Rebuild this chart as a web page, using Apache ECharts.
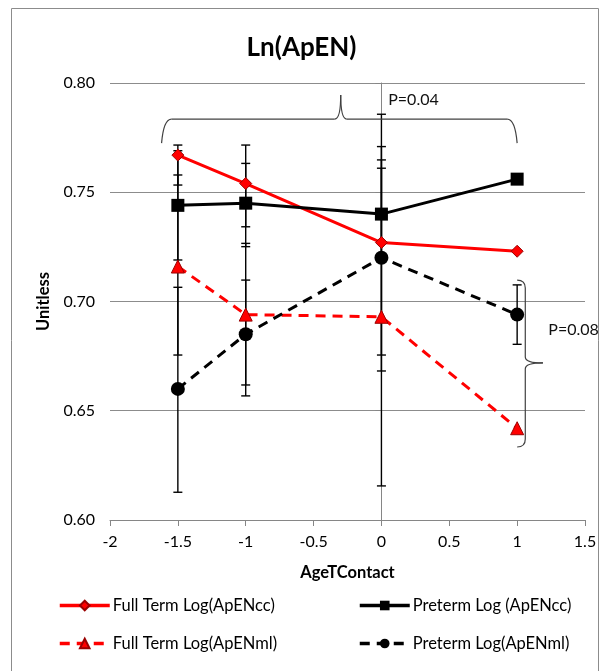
<!DOCTYPE html>
<html><head><meta charset="utf-8">
<script src="https://cdn.jsdelivr.net/npm/echarts@6/dist/echarts.min.js"></script>
<style>html,body{margin:0;padding:0;background:#fff}#c{width:603px;height:671px}</style>
</head><body><div id="c"></div>
<script>
// ---- data ----
const xVals = [-1.5, -1, 0, 1];
const seriesNames = ['Full Term Log(ApENcc)', 'Preterm Log (ApENcc)', 'Full Term Log(ApENml)', 'Preterm Log(ApENml)'];
const ftcc = [0.767, 0.754, 0.727, 0.723];
const ptcc = [0.744, 0.745, 0.740, 0.756];
const ftml = [0.716, 0.694, 0.693, 0.642];
const ptml = [0.660, 0.685, 0.720, 0.694];
const ftccLow  = [0.7533, 0.7342, 0.6682, null];
const ftccHigh = [0.7716, 0.7716, 0.7857, null];
const ptccLow  = [0.719, 0.7251, 0.718, null];
const ptccHigh = [0.769, 0.7632, 0.761, null];
const ftmlLow  = [0.6755, 0.6568, 0.6156, null];
const ftmlHigh = [0.7579, 0.7266, 0.7709, null];
const ptmlLow  = [0.6127, 0.6618, 0.6755, 0.6804];
const ptmlHigh = [0.7065, 0.7098, 0.7648, 0.7076];
const pLabels = ['P=0.04', 'P=0.08'];
const xTicks = [-2, -1.5, -1, -0.5, 0, 0.5, 1, 1.5];
const yTicks = [0.60, 0.65, 0.70, 0.75, 0.80];

const FONT = 'Lato, "Open Sans", sans-serif';
const chart = echarts.init(document.getElementById('c'));

function pts(vals) { return xVals.map((x, i) => [x, vals[i]]); }
function errData(lo, hi) {
  const out = [];
  xVals.forEach((x, i) => { if (lo[i] != null && hi[i] != null) out.push([x, lo[i], hi[i]]); });
  return out;
}
const errAll = [].concat(errData(ftccLow, ftccHigh), errData(ptccLow, ptccHigh), errData(ftmlLow, ftmlHigh), errData(ptmlLow, ptmlHigh));

function legendAt(name, left, top) {
  return { data: [name], left: left, top: top, itemWidth: 50, itemHeight: 12, padding: 0,
    lineStyle: { width: 3.5 },
    textStyle: { fontFamily: FONT, fontSize: 16.5, color: '#000', padding: [0, 0, 0, -2] } };
}

const RED = '#ff0000';
chart.setOption({
  animation: false,
  title: { text: 'Ln(ApEN)', left: 'center', top: 30,
    textStyle: { fontFamily: FONT, fontSize: 26, fontWeight: 'bold', color: '#000' } },
  grid: { left: 110, right: 18, top: 83, bottom: 151, outerBoundsMode: 'none' },
  legend: [
    legendAt(seriesNames[0], 58, 597),
    legendAt(seriesNames[1], 358, 597),
    legendAt(seriesNames[2], 58, 635),
    legendAt(seriesNames[3], 358, 635)
  ],
  xAxis: { type: 'value', min: xTicks[0], max: xTicks[xTicks.length - 1], interval: 0.5,
    name: 'AgeTContact', nameLocation: 'middle', nameGap: 44,
    nameTextStyle: { fontFamily: FONT, fontSize: 16.5, fontWeight: 'bold', color: '#000' },
    axisLine: { lineStyle: { color: '#868686', width: 1 } },
    axisTick: { show: true, length: 6, lineStyle: { color: '#868686' } },
    axisLabel: { fontFamily: FONT, fontSize: 16, color: '#000', margin: 14 },
    splitLine: { show: false } },
  yAxis: { type: 'value', min: yTicks[0], max: yTicks[yTicks.length - 1], interval: 0.05,
    name: 'Unitless', nameLocation: 'middle', nameGap: 58, nameRotate: 90,
    nameTextStyle: { fontFamily: FONT, fontSize: 16.5, fontWeight: 'bold', color: '#000' },
    axisLine: { show: true, lineStyle: { color: '#868686', width: 1 } },
    axisTick: { show: true, length: 6, lineStyle: { color: '#868686' } },
    axisLabel: { fontFamily: FONT, fontSize: 16, color: '#000', margin: 15, formatter: v => v.toFixed(2) },
    splitLine: { show: true, lineStyle: { color: '#8c8c8c', width: 1 } } },
  series: [
    { type: 'custom', name: 'err', z: 3, silent: true, data: errAll,
      encode: { x: 0, y: [1, 2] },
      renderItem: function (params, api) {
        const x = api.value(0);
        const p1 = api.coord([x, api.value(1)]);
        const p2 = api.coord([x, api.value(2)]);
        const w = 4.5, st = { stroke: '#000', lineWidth: 1.4 };
        return { type: 'group', children: [
          { type: 'line', shape: { x1: p1[0], y1: p1[1], x2: p2[0], y2: p2[1] }, style: st },
          { type: 'line', shape: { x1: p1[0] - w, y1: p1[1], x2: p1[0] + w, y2: p1[1] }, style: st },
          { type: 'line', shape: { x1: p2[0] - w, y1: p2[1], x2: p2[0] + w, y2: p2[1] }, style: st }
        ] };
      } },
    { type: 'line', name: seriesNames[0], data: pts(ftcc), z: 4, symbol: 'diamond', symbolSize: 12,
      lineStyle: { color: RED, width: 3 }, itemStyle: { color: RED, borderColor: '#9a0000', borderWidth: 1 } },
    { type: 'line', name: seriesNames[1], data: pts(ptcc), z: 4, symbol: 'rect', symbolSize: 13,
      lineStyle: { color: '#000', width: 3 }, itemStyle: { color: '#000' } },
    { type: 'line', name: seriesNames[2], data: pts(ftml), z: 4, symbol: 'triangle', symbolSize: 13,
      lineStyle: { color: RED, width: 3, type: [10, 7] }, itemStyle: { color: RED, borderColor: '#9a0000', borderWidth: 1 } },
    { type: 'line', name: seriesNames[3], data: pts(ptml), z: 4, symbol: 'circle', symbolSize: 14,
      lineStyle: { color: '#000', width: 3, type: [10, 7] }, itemStyle: { color: '#000' } }
  ]
});

// ---- annotations (braces + P values), positioned via axes ----
function P(x, y) { return chart.convertToPixel({ gridIndex: 0 }, [x, y]); }
const BST = { fill: 'none', stroke: '#404040', lineWidth: 1.2 };
function seg(x1, y1, x2, y2) { return { type: 'line', shape: { x1, y1, x2, y2 }, style: BST, z: 10, silent: true }; }
function quad(x1, y1, cx, cy, x2, y2) { return { type: 'bezierCurve', shape: { x1, y1, x2, y2, cpx1: cx, cpy1: cy }, style: BST, z: 10, silent: true }; }

const a = P(-1.62, 0.7725), b = P(1.0, 0.7725);
const yMid = P(0, 0.7835)[1], tip = P(-0.3, 0.7945);
const xB = P(1.06, 0)[0], xH = P(1.0, 0)[0], xTip = P(1.19, 0)[0];
const yTop = P(0, 0.7098)[1], yBot = P(0, 0.6334)[1], yC = P(0, 0.6719)[1];
const t1 = P(0.05, 0.7922), t2 = P(1.23, 0.687);

const braces = [
  quad(a[0], a[1], a[0] + 2, yMid, a[0] + 10, yMid),
  seg(a[0] + 10, yMid, tip[0] - 6, yMid),
  quad(tip[0] - 6, yMid, tip[0], yMid, tip[0], tip[1]),
  quad(tip[0], tip[1], tip[0], yMid, tip[0] + 6, yMid),
  seg(tip[0] + 6, yMid, b[0] - 10, yMid),
  quad(b[0] - 10, yMid, b[0] - 2, yMid, b[0], b[1]),
  quad(xH, yTop, xB, yTop, xB, yTop + 8),
  seg(xB, yTop + 8, xB, yC - 6),
  quad(xB, yC - 6, xB, yC, xTip, yC),
  quad(xTip, yC, xB, yC, xB, yC + 6),
  seg(xB, yC + 6, xB, yBot - 8),
  quad(xB, yBot - 8, xB, yBot, xH, yBot)
];

chart.setOption({
  graphic: [
    { type: 'rect', shape: { x: 11.5, y: 8.5, width: 587, height: 680 }, style: { fill: 'none', stroke: '#8c8c8c', lineWidth: 1 }, silent: true },
    { type: 'text', x: t1[0], y: t1[1], style: { text: pLabels[0], fontFamily: FONT, fontSize: 16, fill: '#111', textVerticalAlign: 'middle' }, z: 10 },
    { type: 'text', x: t2[0], y: t2[1], style: { text: pLabels[1], fontFamily: FONT, fontSize: 16, fill: '#111', textVerticalAlign: 'middle' }, z: 10 }
  ].concat(braces)
});
</script></body></html>
